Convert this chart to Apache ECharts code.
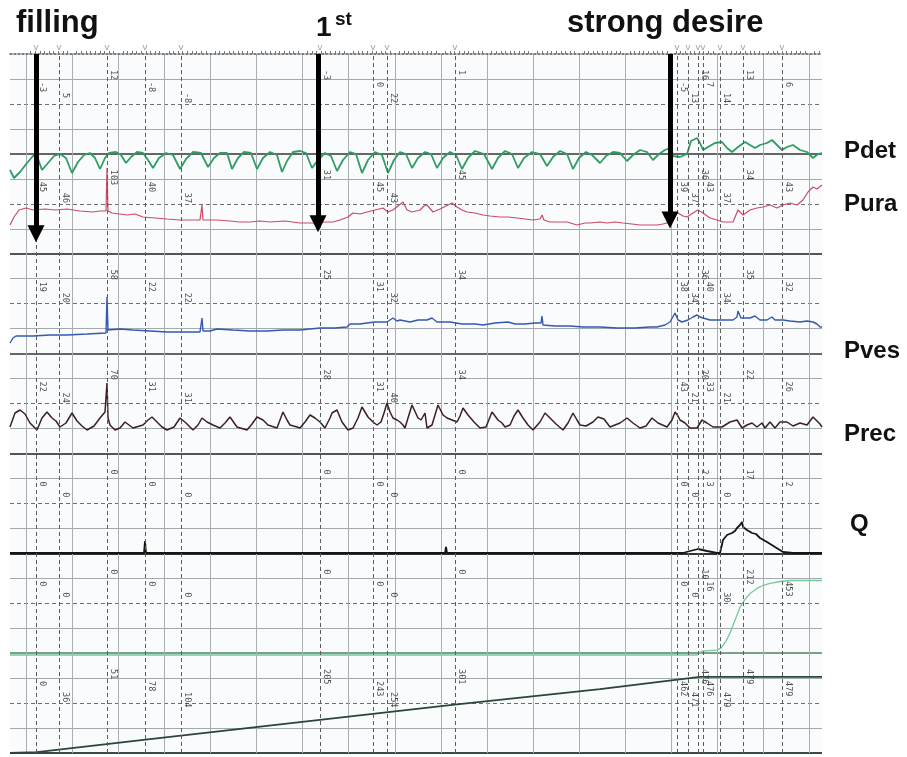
<!DOCTYPE html>
<html>
<head>
<meta charset="utf-8">
<title>Urodynamic trace</title>
<script src="https://cdn.jsdelivr.net/npm/echarts@6/dist/echarts.min.js"></script>
<style>
  html, body { margin: 0; padding: 0; background: #fff; }
  #chart { width: 907px; height: 757px; }
</style>
</head>
<body>
<div id="chart"></div>
<script>
// event marks along the time axis
const eventTimes = [36, 59, 107, 145, 181, 320, 373, 387, 455, 677, 688, 698, 703, 720, 743, 782];

// numbers printed at each event, one row per channel
const pdetMarks  = [-3, 5, 12, -8, -8, -3, 0, 22, 1, -5, 13, 16, 7, 14, 13, 6];
const puraMarks  = [45, 46, 103, 40, 37, 31, 45, 43, 45, 39, 37, 36, 43, 37, 34, 43];
const pvesMarks  = [19, 20, 58, 22, 22, 25, 31, 32, 34, 38, 34, 36, 40, 34, 35, 32];
const precMarks  = [22, 24, 70, 31, 31, 28, 31, 40, 34, 43, 21, 20, 33, 21, 22, 26];
const qMarks     = [0, 0, 0, 0, 0, 0, 0, 0, 0, 0, 0, 2, 3, 0, 17, 2];
const vvoidMarks = [0, 0, 0, 0, 0, 0, 0, 0, 0, 0, 0, 10, 16, 30, 212, 453];
const vinfMarks  = [0, 36, 51, 78, 104, 205, 243, 254, 301, 462, 471, 476, 476, 479, 479, 479];

// annotations at the top
const arrowNotes = [
  { text: 'filling', t: 36 },
  { text: '1st', t: 318 },
  { text: 'strong desire', t: 670 }
];

// traces [time, value]
const pdet = [[10,-15],[14,-23],[20,-17],[27,-8],[33,-1],[37,-1],[42,-15],[48,-8],[54,-1],[60,1],[66,-3],[72,-18],[78,-7],[84,0],[90,2],[95,-3],[100,-14],[105,-3],[109,2],[116,3],[121,0],[126,-8],[131,-2],[137,3],[143,2],[148,-5],[153,-13],[159,-3],[166,2],[173,0],[180,-14],[186,-4],[193,3],[201,2],[208,-12],[214,-3],[220,2],[227,2],[232,-14],[238,-3],[244,3],[251,2],[257,-14],[263,-3],[270,3],[277,0],[282,-17],[287,-6],[293,3],[300,4],[306,2],[312,-13],[318,-5],[325,2],[331,-1],[337,-16],[343,-5],[350,3],[356,1],[362,-18],[368,-5],[375,3],[382,0],[388,-18],[394,-5],[400,3],[406,1],[412,-13],[418,-3],[425,3],[431,1],[437,-13],[443,-3],[450,3],[456,0],[462,-14],[468,-3],[475,4],[484,1],[492,-14],[498,-3],[505,4],[512,1],[518,-13],[524,-3],[532,3],[540,1],[547,-11],[553,-2],[560,4],[567,1],[573,-14],[579,-3],[586,3],[592,0],[600,-8],[606,-1],[613,3],[620,2],[627,-6],[633,0],[640,5],[647,3],[653,-5],[659,1],[665,5],[670,7],[673,-1],[680,-2],[687,1],[691,14],[697,17],[700,12],[703,5],[708,8],[715,12],[722,13],[727,7],[732,3],[738,8],[745,13],[750,10],[755,7],[760,10],[767,12],[772,15],[777,10],[782,5],[787,8],[793,10],[800,5],[807,3],[813,-3],[818,1],[822,2]];

const pura = [[10,30],[14,38],[19,45],[26,47],[33,45],[45,46],[55,45],[67,46],[80,44],[93,43],[100,44],[106,44],[107,87],[108,44],[112,42],[127,40],[135,41],[143,38],[155,37],[167,36],[180,35],[190,35],[200,35],[202,50],[203,35],[210,35],[217,35],[230,34],[240,33],[250,33],[260,34],[270,33],[285,34],[300,32],[310,32],[317,32],[325,33],[333,33],[340,35],[348,38],[353,42],[360,41],[367,43],[375,45],[383,47],[388,43],[393,45],[398,49],[403,53],[407,45],[412,43],[420,45],[424,49],[427,50],[433,43],[440,46],[448,50],[452,52],[457,48],[462,45],[467,43],[475,42],[483,40],[490,39],[500,38],[508,38],[517,37],[525,36],[533,35],[540,36],[542,40],[544,35],[550,33],[560,33],[567,33],[577,30],[585,32],[590,32],[600,33],[607,32],[615,33],[623,32],[632,31],[640,30],[650,30],[657,30],[663,31],[667,32],[672,38],[678,42],[683,39],[687,38],[693,42],[698,45],[703,42],[710,37],[717,35],[723,33],[733,33],[738,45],[743,40],[750,45],[757,47],[763,48],[770,50],[777,47],[783,50],[790,52],[797,50],[803,55],[808,63],[813,68],[817,66],[822,70]];

const pves = [[10,12],[13,17],[16,19],[33,19],[50,20],[67,20],[87,21],[106,22],[107,58],[108,25],[110,27],[120,26],[133,25],[150,24],[167,23],[185,23],[200,23],[202,37],[203,24],[210,24],[217,26],[233,25],[250,24],[267,24],[283,25],[300,25],[320,27],[335,27],[347,28],[350,31],[360,31],[367,32],[375,33],[387,33],[393,37],[397,34],[400,35],[410,33],[418,35],[427,35],[432,37],[437,33],[450,33],[462,31],[475,31],[483,30],[495,32],[508,33],[515,31],[525,31],[535,32],[541,32],[542,39],[543,30],[555,29],[570,29],[583,28],[600,28],[617,27],[635,27],[650,28],[657,28],[665,30],[670,33],[675,42],[678,35],[682,33],[688,35],[693,38],[697,40],[700,38],[703,37],[710,35],[717,35],[725,35],[733,35],[737,38],[738,44],[741,37],[750,37],[755,39],[760,35],[767,35],[772,38],[775,35],[783,35],[790,34],[800,33],[807,34],[813,33],[817,31],[820,28],[822,28]];

const prec = [[10,28],[15,42],[20,45],[25,41],[30,32],[37,25],[42,37],[47,43],[52,37],[56,34],[60,28],[66,32],[72,42],[77,34],[82,29],[87,25],[94,29],[100,37],[105,43],[106,43],[107,72],[108,37],[110,30],[115,25],[120,27],[125,33],[133,27],[143,30],[148,35],[152,38],[157,33],[162,28],[167,25],[174,28],[180,37],[186,32],[193,25],[198,30],[202,37],[207,33],[213,30],[220,27],[225,32],[230,38],[237,28],[247,25],[252,31],[257,38],[263,35],[268,30],[277,27],[280,35],[283,43],[287,35],[290,30],[297,28],[300,27],[305,33],[310,40],[315,37],[320,33],[325,27],[330,37],[332,42],[337,45],[342,33],[348,25],[353,27],[358,37],[362,48],[368,38],[373,33],[377,30],[381,33],[384,42],[387,52],[390,43],[393,37],[397,35],[400,33],[403,30],[405,27],[408,37],[412,50],[418,37],[421,35],[425,42],[427,27],[432,30],[438,50],[443,40],[447,37],[452,35],[457,33],[460,39],[463,47],[468,40],[474,33],[480,27],[486,28],[492,43],[498,35],[502,32],[505,28],[510,30],[514,39],[518,45],[523,37],[528,30],[533,25],[540,33],[545,42],[550,37],[556,31],[563,25],[568,32],[573,42],[577,35],[580,30],[586,29],[593,33],[598,38],[604,36],[610,28],[620,32],[627,37],[633,32],[640,27],[646,29],[652,37],[658,32],[667,28],[672,35],[675,43],[678,39],[680,35],[685,32],[690,27],[697,27],[702,35],[707,32],[713,28],[722,28],[730,33],[737,35],[742,27],[747,30],[752,32],[757,28],[762,32],[765,27],[770,33],[775,27],[780,33],[787,33],[793,29],[800,32],[807,30],[813,38],[817,34],[820,31],[822,28]];

const flow = [[10,0],[144,0],[145,6],[146,0],[445,0],[446,3],[447,0],[683,0],[690,1],[698,2],[707,1],[717,0],[720,0],[723,6.5],[727,9],[729,8],[732,10],[735,11],[737,12.5],[740,14],[742,15.5],[743,13],[745,12.5],[747,11.5],[749,12],[752,10],[756,9.5],[760,7.5],[767,5.5],[775,3],[783,0.5],[793,0],[822,0]];

const voided = [[10,0],[697,0],[702,24],[717,30],[721,42],[726,84],[730,132],[735,210],[740,288],[745,336],[750,372],[757,402],[763,420],[770,432],[780,444],[790,450],[822,450]];

const infused = [[10,0],[37,6],[150,88],[300,195],[450,302],[600,403],[700,479],[822,479]];

const channelLabels = ['Pdet', 'Pura', 'Pves', 'Prec', 'Q'];

// layout
const paperTop = 54, paperBottom = 753;
const levelStart = [0.64, 1.12, 1.56]; // top / mid / low rows, in quarter-bands
const arrowTips = [20.8, 21.2, 21.35];

const chart = echarts.init(document.getElementById('chart'));

const marksRows = [pdetMarks, puraMarks, pvesMarks, precMarks, qMarks, vvoidMarks, vinfMarks];
const markPoints = [];
marksRows.forEach((row, c) => {
  row.forEach((v, i) => {
    const lvl = levelStart[(i + 1) % 3];
    markPoints.push({ value: [eventTimes[i] + 6, 28 - 4 * c - lvl], label: { formatter: String(v) } });
  });
});

const channels = [
  { data: pdet,    zero: 155, max: 100, color: '#2f9d62', width: 1.8 },
  { data: pura,    zero: 255, max: 100, color: '#cc4a66', width: 1.2 },
  { data: pves,    zero: 355, max: 100, color: '#3558b0', width: 1.4 },
  { data: prec,    zero: 455, max: 100, color: '#3b1f24', width: 1.5 },
  { data: flow,    zero: 553, max: 50,  color: '#151515', width: 1.8 },
  { data: voided,  zero: 655, max: 604, color: '#78c89a', width: 1.3 },
  { data: infused, zero: 753, max: 630, color: '#2b4538', width: 1.8 }
];

// chart-paper rulings: first solid vertical at 26px, then every 46.1px
const rulingStep = 46.1, rulingStart = 26;

const grids = [
  { left: 10, right: 85, top: paperTop, bottom: 757 - paperBottom, show: true, backgroundColor: '#f9fbfc', borderWidth: 0 },
  { left: rulingStart, right: 85, top: paperTop, bottom: 757 - paperBottom }
];
const xAxes = [
  { gridIndex: 0, type: 'value', min: 10, max: 822, position: 'top',
    axisLine: { show: true, onZero: false, lineStyle: { color: '#555', width: 1.5, type: [2, 2] } },
    axisTick: { show: false }, axisLabel: { show: false }, splitLine: { show: false } },
  { gridIndex: 1, type: 'value', min: 0, max: (822 - rulingStart) / rulingStep, interval: 1, position: 'top',
    axisLine: { show: false, onZero: false }, axisTick: { show: false }, axisLabel: { show: false },
    splitLine: { show: true, showMaxLine: false, lineStyle: { color: '#a9aeb3', width: 1 } },
    minorTick: { show: true, splitNumber: 10, length: 3, lineStyle: { color: '#777' } } }
];
const hidden = { axisLine: { show: false }, axisTick: { show: false }, axisLabel: { show: false } };
const yAxes = [
  Object.assign({ gridIndex: 0, type: 'value', min: 0, max: 28, interval: 1,
    splitLine: { show: true, lineStyle: { color: ['transparent', '#a3a9ae', 'transparent', '#a3a9ae'], width: 1 } } }, hidden),
  Object.assign({ gridIndex: 0, type: 'value', min: 0, max: 28, interval: 2, position: 'right',
    splitLine: { show: true, lineStyle: { color: ['transparent', '#6b6f73'], width: 1, type: [4, 3] } } }, hidden),
  Object.assign({ gridIndex: 0, type: 'value', min: 0, max: 28, interval: 4, offset: 20,
    splitLine: { show: true, lineStyle: { color: ['#3b4a42', '#79a088', '#333', '#555', '#666', '#555', '#666', 'transparent'], width: 2 } } }, hidden),
  { gridIndex: 1, type: 'value', min: 0, max: 1, show: false }
];

const series = [
  { // event lines and top markers
    type: 'scatter', xAxisIndex: 0, yAxisIndex: 0, symbolSize: 0, clip: false, silent: true,
    data: eventTimes.map(t => [t, 28]),
    label: { show: true, position: 'top', distance: 2, formatter: 'v', color: '#8a8a8a', fontSize: 9, fontFamily: 'DejaVu Sans' },
    markLine: { silent: true, symbol: 'none', animation: false, label: { show: false },
      lineStyle: { type: [4, 3], color: '#5c5c5c', width: 1 },
      data: eventTimes.map(t => ({ xAxis: t })) }
  },
  { // printed values
    type: 'scatter', xAxisIndex: 0, yAxisIndex: 0, symbolSize: 0, clip: false, silent: true,
    data: markPoints,
    label: { show: true, position: 'inside', rotate: -90, align: 'left', verticalAlign: 'middle',
      color: '#1e1e1e', fontSize: 8.5, fontFamily: 'DejaVu Sans Mono' }
  },
  { // arrows
    type: 'scatter', xAxisIndex: 0, yAxisIndex: 0, symbolSize: 0, silent: true,
    data: arrowNotes.map(a => [a.t, 28]),
    markLine: { silent: true, symbol: ['none', 'triangle'], symbolSize: 17, animation: false,
      label: { show: false }, lineStyle: { color: '#000', width: 5, type: 'solid' },
      data: arrowNotes.map((a, i) => [{ coord: [a.t, 28] }, { coord: [a.t, arrowTips[i]] }]) }
  }
];

channels.forEach((ch, i) => {
  grids.push({ left: 10, right: 85, top: ch.zero - 100, height: 100 });
  xAxes.push({ gridIndex: i + 2, type: 'value', min: 10, max: 822, show: false });
  yAxes.push({ gridIndex: i + 2, type: 'value', min: 0, max: ch.max, show: false });
  series.push({
    type: 'line', xAxisIndex: i + 2, yAxisIndex: i + 4, data: ch.data, clip: false,
    showSymbol: false, symbol: 'none', silent: true,
    lineStyle: { color: ch.color, width: ch.width }
  });
});

const bold = { fontFamily: 'Liberation Sans', fontWeight: 'bold', color: '#111' };
const titles = [
  { text: 'filling', left: 11, top: 3, textStyle: Object.assign({ fontSize: 31 }, bold) },
  { text: '1', left: 311, top: 9, textStyle: Object.assign({ fontSize: 28 }, bold) },
  { text: 'st', left: 330, top: 5, textStyle: Object.assign({ fontSize: 19 }, bold) },
  { text: 'strong desire', left: 562, top: 3, textStyle: Object.assign({ fontSize: 31 }, bold) }
];
const labelTops = [134, 187, 334, 417, 507];
channelLabels.forEach((name, i) => {
  titles.push({ text: name, left: name === 'Q' ? 845 : 839, top: labelTops[i], textStyle: Object.assign({ fontSize: 24 }, bold) });
});

chart.setOption({
  backgroundColor: '#ffffff',
  animation: false,
  title: titles,
  grid: grids,
  xAxis: xAxes,
  yAxis: yAxes,
  series: series
});
</script>
</body>
</html>
